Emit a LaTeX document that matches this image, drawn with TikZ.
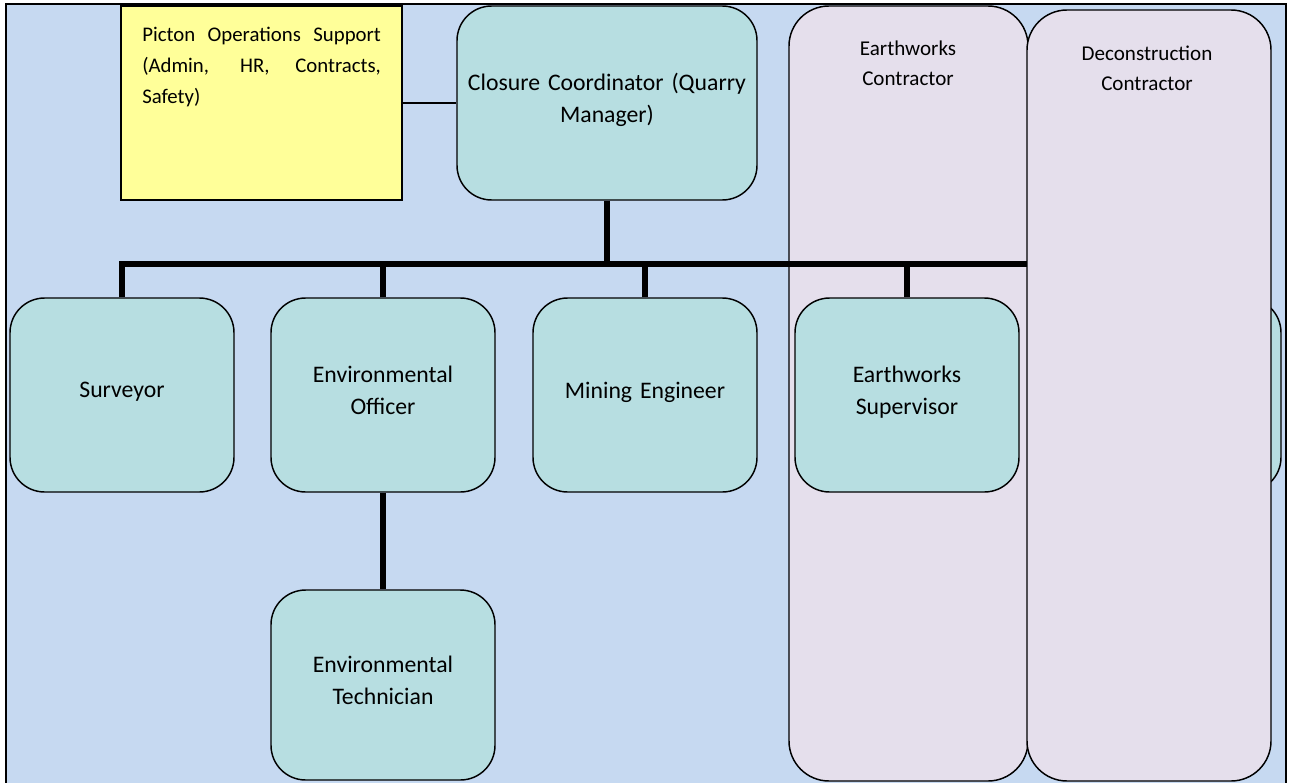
\documentclass[tikz,border=0pt]{standalone}
\usepackage{fontspec}
\setmainfont{Carlito}
\definecolor{bgblue}{HTML}{C6D9F1}
\definecolor{roleteal}{HTML}{B7DEE1}
\definecolor{contlav}{HTML}{E5DFEC}
\definecolor{opsyellow}{HTML}{FFFF99}
\tikzset{
  role/.style={draw=black, line width=1.1pt, fill=roleteal, rounded corners=26pt,
    minimum width=168pt, minimum height=145.5pt, align=center, text width=150pt,
    inner sep=0pt, font=\fontsize{17.8}{24}\selectfont,
    execute at begin node={\rule[-7.2pt]{0pt}{16.8pt}},
    execute at end node={\rule[-7.2pt]{0pt}{1pt}}},
  contractor/.style={draw=black, line width=1.1pt, fill=contlav, rounded corners=30pt,
    inner sep=0pt},
  contlabel/.style={align=center, inner sep=0pt, font=\fontsize{15.8}{22.5}\selectfont},
  bus/.style={draw=black, line width=5.2pt},
  thinlink/.style={draw=black, line width=1.1pt},
}
\begin{document}
\begin{tikzpicture}[x=0.75pt,y=-0.75pt]
\useasboundingbox (0,0) rectangle (1289,782);
\clip (0,0) rectangle (1289,782);
\draw[line width=1.1pt, fill=bgblue] (6,4) rectangle (1286,820);

% support box
\node[draw=black, line width=1.1pt, fill=opsyellow, minimum width=210.75pt, minimum height=145.5pt, inner sep=0pt] (ops) at (261.5,103) {};
\node[anchor=north west, inner sep=0pt, align=left,
  font=\fontsize{15.6}{23.2}\selectfont] (opstext) at (142,27)
  {\makebox[179pt][s]{Picton Operations Support}\\
   \makebox[179pt][s]{(Admin, HR, Contracts,}\\
   Safety)};

% coordinator
\node[role, minimum width=225pt, text width=215pt] (coord) at (607,103)
  {Closure Coordinator (Quarry\\Manager)};
\draw[thinlink] (ops.east) -- (coord.west);

% earthworks contractor column
\node[contractor, minimum width=179.25pt, minimum height=581.25pt] (earthc) at (908.5,393.5) {};
\node[contlabel] (earthclabel) at (908,63) {Earthworks\\Contractor};

% second-level roles
\node[role] (surveyor) at (122,395) {Surveyor};
\node[role] (envoff) at (383,395) {Environmental\\Officer};
\node[role] (mining) at (645,395) {Mining Engineer};
\node[role] (earthsup) at (907,395) {Earthworks\\Supervisor};
\node[role] (hidden) at (1169,395) {};
\node[role, minimum height=142.5pt] (envtech) at (383,685) {Environmental\\Technician};

% bus
\coordinate (busR) at (1169,264);
\draw[bus] (surveyor.north) |- (busR);
\draw[bus] (coord.south) -- (coord.south |- busR);
\draw[bus] (envoff.north) -- (envoff.north |- busR);
\draw[bus] (mining.north) -- (mining.north |- busR);
\draw[bus] (earthsup.north) -- (earthsup.north |- busR);
\draw[bus] (hidden.north) -- (hidden.north |- busR);
\draw[bus] (envoff.south) -- (envtech.north);

% deconstruction contractor column
\node[contractor, minimum width=183pt, minimum height=578.25pt] (decon) at (1149,395.5) {};
\node[contlabel] (deconlabel) at (1147,68) {Deconstruction\\Contractor};
\end{tikzpicture}
\end{document}
